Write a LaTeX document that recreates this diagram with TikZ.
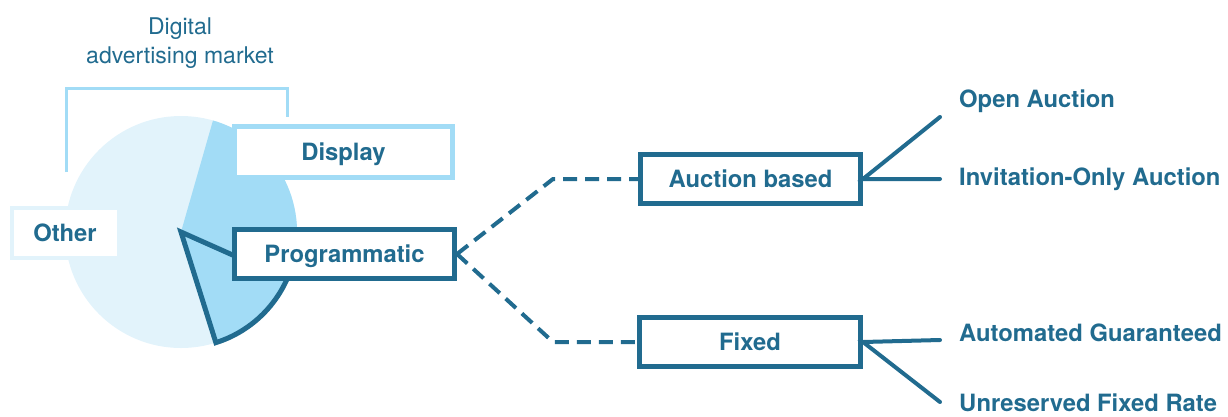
\documentclass[tikz,border=0pt]{standalone}
\usepackage{fontspec}
\setmainfont{TeX Gyre Heros}
\definecolor{dblue}{HTML}{216B8F}
\definecolor{lblue}{HTML}{A2DCF6}
\definecolor{pblue}{HTML}{E2F3FB}
\tikzset{
  boxbase/.style={fill=white, line width=5pt, inner sep=0pt, text height=17pt, text depth=0pt,
    font=\bfseries\fontsize{23.8}{28}\selectfont, text=dblue, minimum height=49pt},
  darkbox/.style={boxbase, draw=dblue},
  lightbox/.style={boxbase, draw=lblue},
  otherbox/.style={boxbase, draw=pblue, line width=4pt},
  dashline/.style={draw=dblue, line width=4pt, dash pattern=on 14pt off 8pt},
  solidline/.style={draw=dblue, line width=4pt, line cap=round},
  leaf/.style={font=\bfseries\fontsize{23.8}{28}\selectfont, text=dblue, inner sep=0pt, anchor=base west},
  titletext/.style={font=\fontsize{23}{28}\selectfont, text=dblue, inner sep=0pt, anchor=base},
}
\begin{document}
\begin{tikzpicture}[x=1pt,y=-1pt]
\useasboundingbox (0,0) rectangle (1228,416);
% title
\node[titletext] (t1) at (180,34) {Digital};
\node[titletext] (t2) at (180,63) {advertising market};
% bracket
\coordinate (b1) at (66,172);
\coordinate (b2) at (66,88);
\coordinate (b3) at (287,88);
\coordinate (b4) at (287,117);
\draw[lblue, line width=3pt] (b1) -- (b2) -- (b3) -- (b4);
% pie
\coordinate (pc) at (181,232);
\fill[pblue] (pc) circle[radius=116];
\fill[lblue] (pc) -- ++(-74:116) arc[start angle=-74, end angle=72.5, radius=116] -- cycle;
\draw[dblue, line width=5pt, fill=lblue] (pc) -- ++(24:116) arc[start angle=24, end angle=72.5, radius=116] -- cycle;
% boxes
\node[lightbox, minimum width=218pt, minimum height=51pt] (disp) at (343.5,152) {Display};
\node[darkbox, minimum width=220pt] (prog) at (344.5,254) {Programmatic};
\node[otherbox, minimum width=107pt, minimum height=50pt] (oth) at (65,232.5) {Other};
\node[darkbox, minimum width=220pt] (auc) at (750.5,179) {Auction based};
\node[darkbox, minimum width=221pt] (fix) at (750,342) {Fixed};
% dashed connectors
\coordinate (k1) at (553,179);
\coordinate (k2) at (553,342);
\draw[dashline] (prog.east) -- (k1) -- (auc.west);
\draw[dashline] (prog.east) -- (k2) -- (fix.west);
% leaf lines
\coordinate (e1) at (940,117);
\coordinate (e2) at (940,179);
\coordinate (e3) at (940,340);
\coordinate (e4) at (940,402);
\draw[solidline] (e1) -- (auc.east) -- (e2);
\draw[solidline] (e3) -- (fix.east) -- (e4);
% leaves
\node[leaf] (l1) at (959,107) {Open Auction};
\node[leaf] (l2) at (959,185) {Invitation-Only Auction};
\node[leaf] (l3) at (959,341) {Automated Guaranteed};
\node[leaf] (l4) at (959,411) {Unreserved Fixed Rate};
\end{tikzpicture}
\end{document}
